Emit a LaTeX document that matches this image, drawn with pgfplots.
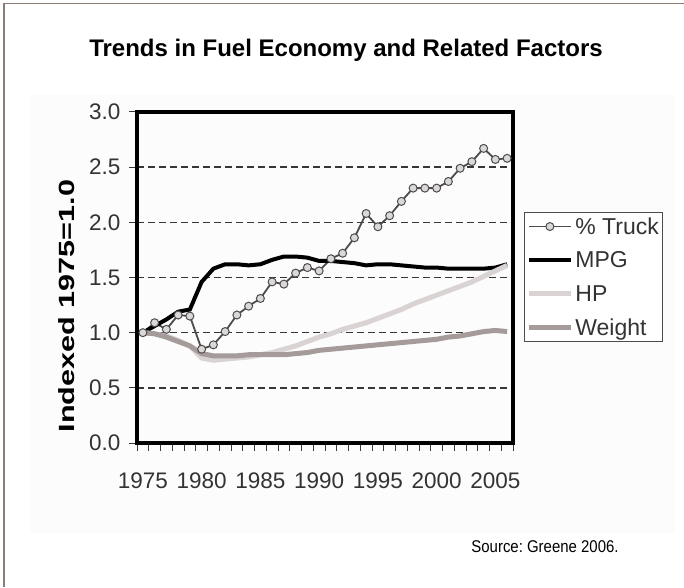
\documentclass[border=0pt]{standalone}
\usepackage{fontspec}
\setmainfont{Liberation Sans}
\usepackage{graphicx}
\usepackage{pgfplots}
\usepackage{pgfplotstable}
\pgfplotsset{compat=1.18}
\definecolor{truckc}{RGB}{80,75,75}
\definecolor{hpc}{RGB}{218,211,211}
\definecolor{wtc}{RGB}{165,155,155}
\definecolor{gridc}{RGB}{55,55,55}
\definecolor{framec}{RGB}{140,125,120}
\definecolor{bgc}{RGB}{252,252,252}

\pgfplotstableread{
year truck mpg hp weight
1975 1.00 1.00 1.00 1.00
1976 1.09 1.06 0.99 0.99
1977 1.03 1.12 0.97 0.96
1978 1.16 1.19 0.93 0.92
1979 1.15 1.21 0.88 0.88
1980 0.85 1.46 0.77 0.81
1981 0.89 1.58 0.75 0.79
1982 1.01 1.62 0.76 0.79
1983 1.16 1.62 0.77 0.79
1984 1.24 1.61 0.78 0.80
1985 1.31 1.62 0.80 0.80
1986 1.46 1.66 0.82 0.80
1987 1.44 1.69 0.85 0.80
1988 1.54 1.69 0.88 0.81
1989 1.59 1.68 0.92 0.82
1990 1.56 1.65 0.96 0.84
1991 1.67 1.65 0.99 0.85
1992 1.72 1.64 1.03 0.86
1993 1.86 1.63 1.06 0.87
1994 2.08 1.61 1.09 0.88
1995 1.96 1.62 1.13 0.89
1996 2.06 1.62 1.17 0.90
1997 2.19 1.61 1.21 0.91
1998 2.31 1.60 1.26 0.92
1999 2.31 1.59 1.30 0.93
2000 2.31 1.59 1.34 0.94
2001 2.37 1.58 1.38 0.96
2002 2.49 1.58 1.42 0.97
2003 2.55 1.58 1.46 0.99
2004 2.67 1.58 1.51 1.01
2005 2.57 1.59 1.56 1.02
2006 2.58 1.62 1.61 1.01
}\datatable

\begin{document}
\frenchspacing
\begin{tikzpicture}[x=1pt,y=1pt]
\useasboundingbox (0,0) rectangle (684,587);
\fill[bgc] (30,54) rectangle (675,492);
\draw[framec, line width=1.2pt] (4,0) -- (4,583.5) -- (684,583.5);
\node[font=\bfseries\fontsize{24}{28}\selectfont] at (346,537) {Trends in Fuel Economy and Related Factors};
\node[font=\fontsize{17}{20}\selectfont] at (545,40) {\scalebox{0.88}[1]{Source: Greene 2006.}};
\node[rotate=90, font=\bfseries\fontsize{22}{26}\selectfont] at (67,281) {\scalebox{1.39}[1]{Indexed 1975=1.0}};
\begin{axis}[
  at={(137pt,144pt)}, anchor=south west,
  scale only axis, width=376pt, height=331pt,
  xmin=1974.5, xmax=2006.5, ymin=0, ymax=3,
  axis line style={line width=3.8pt, black},
  tick pos=left, tick align=outside,
  major tick length=8pt,
  tick style={line width=1pt, gridc},
  xtick={1974.5,1975.5,...,2006.5},
  xticklabels={},
  extra x ticks={1975,1980,1985,1990,1995,2000,2005},
  extra x tick labels={1975,1980,1985,1990,1995,2000,2005},
  extra x tick style={tick style={draw=none}},
  ytick={0,0.5,1,1.5,2,2.5,3},
  yticklabels={0.0,0.5,1.0,1.5,2.0,2.5,3.0},
  ymajorgrids,
  grid style={gridc, line width=1.4pt, dash pattern=on 7pt off 4pt},
  tick label style={font=\fontsize{22.5}{26}\selectfont, text=black!80},
  /pgf/number format/assume math mode=true,
  xticklabel style={yshift=-18pt},
  yticklabel style={xshift=-5pt},
  legend style={at={(1.029,0.698)}, anchor=north west, draw=truckc, line width=1pt,
    font=\fontsize{23}{26}\selectfont, text=black!80, row sep=12pt, inner xsep=2pt, inner ysep=3pt},
  legend cell align=left,
  legend image code/.code={\draw[mark repeat=2,mark phase=2,#1] plot coordinates {(0pt,0pt) (21pt,0pt) (42pt,0pt)};},
]
\addplot[truckc, line width=1.8pt, mark=*, mark size=4pt, mark options={fill=gray!30, draw=truckc, line width=1pt}] table[x=year,y=truck] {\datatable};
\addlegendentry{\% Truck}
\addplot[black, line width=4pt] table[x=year,y=mpg] {\datatable};
\addlegendentry{MPG}
\addplot[hpc, line width=5pt] table[x=year,y=hp] {\datatable};
\addlegendentry{HP}
\addplot[wtc, line width=5pt] table[x=year,y=weight] {\datatable};
\addlegendentry{Weight}
\end{axis}
\end{tikzpicture}
\end{document}
